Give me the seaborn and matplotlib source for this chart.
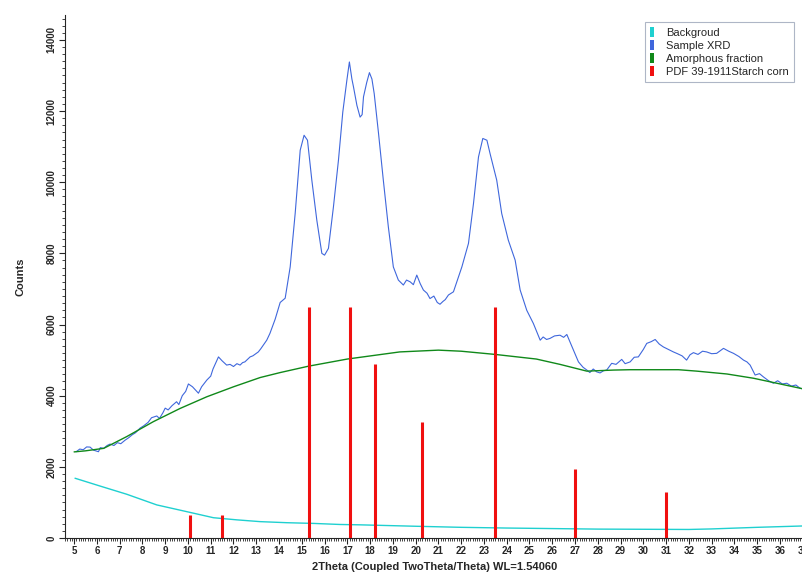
import matplotlib
matplotlib.use('Agg')
import matplotlib.pyplot as plt
from matplotlib.patches import Patch
from matplotlib.ticker import MultipleLocator
import pandas as pd
import seaborn as sns

# Sample XRD pattern (2theta, counts)
xrd_2theta = [5.09, 5.25, 5.4, 5.55, 5.7, 5.85, 6.07, 6.15, 6.3, 6.45, 6.58, 6.75, 6.9, 7.05,
              7.24, 7.4, 7.55, 7.7, 7.9, 8.05, 8.25, 8.4, 8.63, 8.75, 8.9, 9.0, 9.13, 9.3,
              9.5, 9.6, 9.75, 9.9, 10.02, 10.2, 10.46, 10.6, 10.83, 11.0, 11.1, 11.34, 11.5,
              11.7, 11.85, 12.0, 12.15, 12.29, 12.4, 12.5, 12.73, 12.85, 13.09, 13.2, 13.46,
              13.6, 13.83, 14.05, 14.27, 14.49, 14.71, 14.93, 15.1,
              15.25, 15.44, 15.66, 15.88, 16.0, 16.17, 16.39, 16.61, 16.8, 16.98, 17.09,
              17.2, 17.27, 17.42, 17.56, 17.65, 17.71, 17.85, 17.97, 18.08, 18.18, 18.37,
              18.58, 18.8, 19.02, 19.15, 19.24, 19.35, 19.46, 19.6, 19.76, 19.9, 20.05,
              20.2, 20.34, 20.5, 20.63, 20.8, 20.95, 21.07, 21.2, 21.3,
              21.44, 21.66, 22.03, 22.32, 22.54, 22.76, 22.95, 23.13, 23.27, 23.56, 23.78,
              24.07, 24.37, 24.59, 24.88, 25.17, 25.47, 25.6, 25.75, 25.9, 26.1, 26.34, 26.5,
              26.64, 26.93, 27.15, 27.35, 27.52, 27.65, 27.8, 27.95, 28.1, 28.25, 28.39,
              28.61, 28.8, 29.05, 29.2, 29.42, 29.6, 29.78, 30.0, 30.15, 30.35, 30.52, 30.7,
              30.88, 31.1, 31.32, 31.5, 31.7, 31.9, 32.05, 32.2, 32.4, 32.6, 32.78, 33.0,
              33.22, 33.52, 33.75, 33.96, 34.2, 34.4, 34.55, 34.69, 34.91, 35.1, 35.27, 35.5,
              35.71, 35.9, 36.1, 36.3, 36.5, 36.7, 36.88, 37.1]
xrd_counts = [2425, 2500, 2480, 2560, 2555, 2470, 2425, 2540, 2520, 2600, 2640, 2600, 2680, 2650,
              2750, 2820, 2900, 2960, 3090, 3150, 3250, 3380, 3430, 3360, 3520, 3650, 3600, 3720,
              3830, 3750, 4000, 4120, 4330, 4250, 4070, 4250, 4440, 4550, 4750, 5090, 4980,
              4860, 4880, 4820, 4900, 4860, 4930, 4950, 5090, 5120, 5230, 5320, 5560,
              5750, 6150, 6620, 6740, 7620, 9130, 10900, 11320,
              11180, 10060, 8930, 8000, 7950, 8140, 9310, 10620, 11970, 12870, 13380,
              12900, 12680, 12160, 11830, 11900, 12400, 12800, 13080, 12900, 12490, 11370,
              10060, 8750, 7620, 7400, 7250, 7180, 7110, 7250, 7200, 7120, 7390,
              7150, 6970, 6880, 6730, 6800, 6620, 6570, 6650, 6700,
              6830, 6920, 7620, 8280, 9400, 10710, 11230, 11180, 10800, 10060, 9120,
              8370, 7810, 6970, 6400, 6030, 5560, 5650, 5580, 5610, 5680, 5700, 5640,
              5720, 5280, 4950, 4800, 4720, 4650, 4750, 4670, 4640, 4700, 4720,
              4910, 4880, 5020, 4900, 4950, 5080, 5090, 5300, 5470, 5520, 5580, 5450,
              5370, 5300, 5230, 5180, 5120, 5000, 5150, 5210, 5160, 5250, 5230, 5180,
              5190, 5330, 5250, 5190, 5100, 5000, 4950, 4860, 4580, 4620, 4530, 4420,
              4350, 4420, 4330, 4350, 4270, 4300, 4210, 4180]

# Amorphous fraction
amor_2theta = [5.0, 5.5, 6.3, 7.31, 8.48, 9.65, 10.83, 12.0, 13.17, 14.05, 15.3, 17.0, 19.3,
               21.0, 22.0, 23.49, 25.3, 26.34, 27.52, 28.7, 29.42, 31.54, 32.35, 33.67,
               34.84, 35.86, 36.88, 37.1]
amor_counts = [2420, 2450, 2520, 2850, 3270, 3640, 3970, 4250, 4510, 4650, 4830, 5030, 5230,
               5280, 5250, 5160, 5030, 4880, 4690, 4720, 4730, 4730, 4690, 4610,
               4490, 4350, 4210, 4180]

# Background
bg_2theta = [5.04, 6.14, 7.31, 8.63, 9.95, 11.12, 12.15, 13.17, 14.34, 15.51, 16.68, 17.56,
             20.0, 22.0, 24.0, 26.0, 28.0, 30.0, 32.0, 33.0, 35.0, 37.1]
bg_counts = [1680, 1460, 1230, 930, 740, 570, 510, 460, 430, 410, 380, 370,
             330, 300, 280, 265, 250, 245, 240, 255, 300, 340]

# Reference pattern PDF 39-1911 (stick positions / scaled intensities)
pdf_2theta = [10.1, 11.5, 15.3, 17.1, 18.2, 20.3, 23.5, 27.0, 31.0]
pdf_counts = [650, 650, 6500, 6500, 4900, 3250, 6500, 1950, 1300]

labels = ['Backgroud', 'Sample XRD', 'Amorphous fraction', 'PDF 39-1911Starch corn']
colors = ['#1fd0d0', '#3f67dc', '#10891a', '#f01010']

sns.set_style('ticks')
plt.rcParams['font.family'] = ['Liberation Sans', 'DejaVu Sans']

fig = plt.figure(figsize=(8.02, 5.78), dpi=100)
ax = fig.add_axes([65 / 802, 40 / 578, 740 / 802, 523 / 578])

df_bg = pd.DataFrame({'x': bg_2theta, 'y': bg_counts})
df_xrd = pd.DataFrame({'x': xrd_2theta, 'y': xrd_counts})
df_am = pd.DataFrame({'x': amor_2theta, 'y': amor_counts})

sns.lineplot(data=df_bg, x='x', y='y', ax=ax, color=colors[0], lw=1.0, sort=False)
sns.lineplot(data=df_xrd, x='x', y='y', ax=ax, color=colors[1], lw=0.8, sort=False)
sns.lineplot(data=df_am, x='x', y='y', ax=ax, color=colors[2], lw=1.0, sort=False)
ax.vlines(pdf_2theta, 0, pdf_counts, color=colors[3], lw=2.2)

ax.set_xlim(4.6, 37.1)
ax.set_ylim(0, 14700)
sns.despine(ax=ax)

ax.xaxis.set_major_locator(MultipleLocator(1))
ax.xaxis.set_minor_locator(MultipleLocator(0.1))
ax.yaxis.set_major_locator(MultipleLocator(2000))
ax.yaxis.set_minor_locator(MultipleLocator(200))
ax.tick_params(axis='both', which='major', length=4, width=0.8, labelsize=7, pad=2)
ax.tick_params(axis='both', which='minor', length=2, width=0.6)
for t in ax.get_xticklabels():
    t.set_fontweight('bold')
for t in ax.get_yticklabels():
    t.set_fontweight('bold')
    t.set_rotation(90)
    t.set_va('center')

ax.set_xlabel('2Theta (Coupled TwoTheta/Theta) WL=1.54060', fontsize=8, fontweight='bold', labelpad=6)
ax.set_ylabel('Counts', fontsize=8, fontweight='bold', labelpad=15)
ax.xaxis.set_label_coords((435 - 65) / 740, -0.045)

handles = [Patch(facecolor=c, edgecolor='none') for c in colors]
leg = ax.legend(handles, labels, loc='upper left', bbox_to_anchor=((645 - 65) / 740, 1 - 7 / 523),
                borderaxespad=0, fontsize=8, frameon=True, fancybox=False, handlelength=0.35,
                handleheight=1.0, handletextpad=1.1, borderpad=0.45, labelspacing=0.2)
leg.get_frame().set_edgecolor('#9aa4b8')
leg.get_frame().set_linewidth(0.8)

fig.savefig('out.png', dpi=100)
